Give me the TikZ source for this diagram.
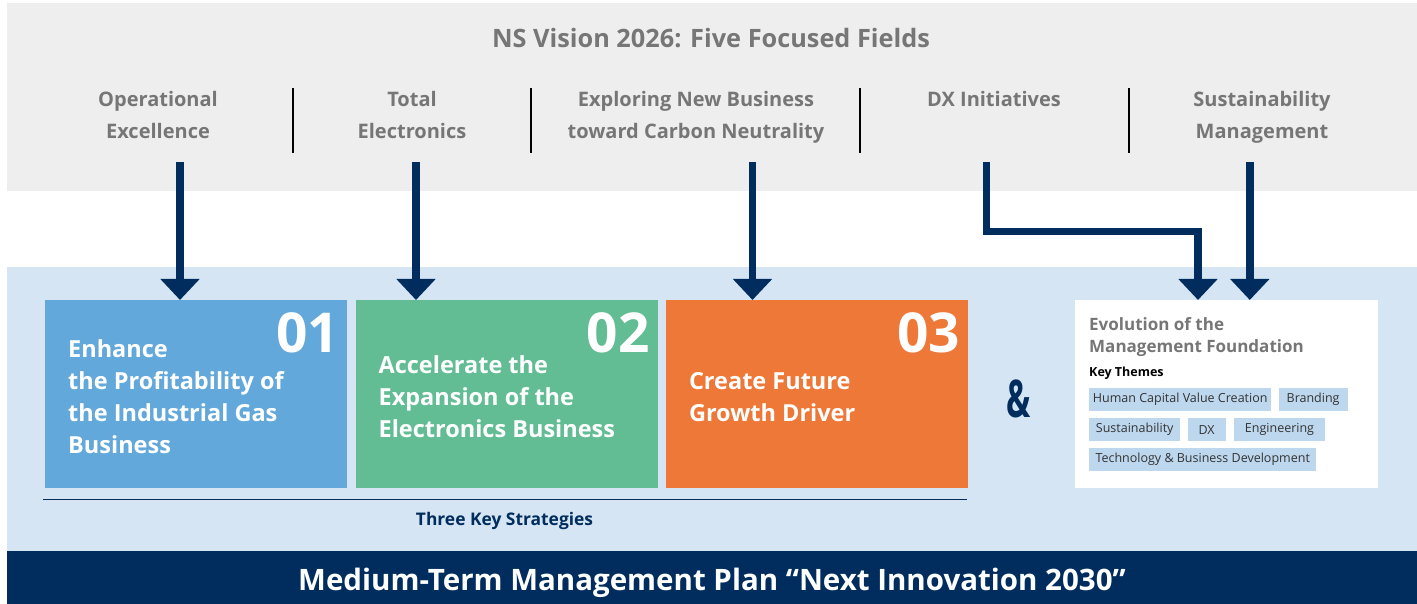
\documentclass[tikz,border=0pt]{standalone}
\usepackage{fontspec}
\setmainfont{Open Sans}
\usepackage{graphicx}
\usetikzlibrary{arrows.meta, positioning}

\definecolor{bandgray}{HTML}{EEEEEE}
\definecolor{bandblue}{HTML}{D5E5F4}
\definecolor{navy}{HTML}{002D5E}
\definecolor{boxblue}{HTML}{62A8DA}
\definecolor{boxgreen}{HTML}{62BD94}
\definecolor{boxorange}{HTML}{EE7838}
\definecolor{tagblue}{HTML}{BDD7EE}
\definecolor{txtgray}{HTML}{767676}
\definecolor{tagtxt}{HTML}{333333}

\begin{document}
\begin{tikzpicture}[
  x=1pt, y=-1pt,
  field/.style={font=\fontsize{20}{32}\selectfont\bfseries, text=txtgray,
                align=center, anchor=base, inner sep=0pt},
  strat/.style={minimum width=302pt, minimum height=188pt, inner sep=0pt, anchor=north west},
  stext/.style={font=\fontsize{23.5}{32}\selectfont\bfseries, text=white,
                align=left, anchor=base west, inner sep=0pt},
  num/.style={font=\fontsize{55}{55}\selectfont\bfseries, text=white, anchor=base east, inner sep=0pt},
  tag/.style={fill=tagblue, text=tagtxt, font=\fontsize{12.5}{14}\selectfont,
              minimum height=23pt, inner xsep=3pt, inner ysep=0pt, anchor=north west},
  arr/.style={navy, line width=7.5pt, -{Triangle[width=38pt, length=21pt]}}
]
\useasboundingbox (0,0) rectangle (1417,604);

% bands
\fill[bandgray] (7,3) rectangle (1417,191.5);
\fill[bandblue] (7,267) rectangle (1417,551);
\fill[navy] (7,551) rectangle (1417,604);

% five fields (base = last line)
\node[font=\fontsize{25.3}{30}\selectfont\bfseries, text=txtgray, anchor=base, inner sep=0pt]
  (title) at (711,47.7) {NS Vision 2026: Five Focused Fields};
\node[field] (f1) at (158,139) {Operational\\Excellence};
\node[field] (f2) at (412,139) {Total\\Electronics};
\node[field] (f3) at (696,139) {Exploring New Business\\toward Carbon Neutrality};
\node[field] (f4) at (994,107) {DX Initiatives};
\node[field] (f5) at (1262,139) {Sustainability\\Management};
\foreach \x in {293,531,860,1129}
  \draw[line width=1.3pt] (\x,88) -- (\x,153);

% three key strategies
\node[strat, fill=boxblue] (b1) at (45,300) {};
\node[strat, fill=boxgreen, right=8pt of b1] (b2) {};
\node[strat, fill=boxorange, right=8pt of b2] (b3) {};
\node[num] (n1) at ([shift={(-8,52)}]b1.north east) {01};
\node[num] (n2) at ([shift={(-8,52)}]b2.north east) {02};
\node[num] (n3) at ([shift={(-8,52)}]b3.north east) {03};
\node[stext] (s1) at ([shift={(23,153)}]b1.north west)
  {Enhance\\the Profitability of\\the Industrial Gas\\Business};
\node[stext] (s2) at ([shift={(23,137)}]b2.north west)
  {Accelerate the\\Expansion of the\\Electronics Business};
\node[stext] (s3) at ([shift={(23,121)}]b3.north west)
  {Create Future\\Growth Driver};
\draw[navy, line width=1.3pt] (43,499.3) -- (967,499.3);
\node[font=\fontsize{17.4}{22}\selectfont\bfseries, text=navy, anchor=base, inner sep=0pt]
  (three) at (504.5,525.7) {Three Key Strategies};

\node[font=\fontsize{52}{52}\selectfont\bfseries, text=navy] (amp) at (1019,399) {\scalebox{0.62}[1]{\&}};

% management foundation
\node[strat, fill=white, minimum width=303pt] (wb) at (1075,300) {};
\node[font=\fontsize{17}{22.7}\selectfont\bfseries, text=txtgray, align=left,
      anchor=base west, inner sep=0pt] (evo) at ([shift={(14,52.7)}]wb.north west)
  {Evolution of the\\Management Foundation};
\node[font=\fontsize{12.5}{15}\selectfont\bfseries, anchor=base west, inner sep=0pt]
  (key) at ([shift={(14,76.7)}]wb.north west) {Key Themes};
\node[tag, minimum width=182pt] (t1) at (1089,388) {Human Capital Value Creation};
\node[tag, minimum width=69pt, right=7pt of t1] (t2) {Branding};
\node[tag, minimum width=91pt] (t3) at (1089,418) {Sustainability};
\node[tag, minimum width=38pt, right=7pt of t3] (t4) {DX};
\node[tag, minimum width=91pt, right=8pt of t4] (t5) {Engineering};
\node[tag, minimum width=227pt] (t6) at (1089,448) {Technology \& Business Development};

% arrows from the fields
\coordinate (a1) at (180,162);
\coordinate (a2) at (416,162);
\coordinate (a3) at (752.5,162);
\coordinate (a4) at (986.7,162);
\coordinate (a5) at (1249.8,162);
\coordinate (k) at (1198,231.7);
\foreach \s/\t in {a1/b1,a2/b2,a3/b3,a5/wb} \draw[arr] (\s) -- (\s |- \t.north);
\draw[arr] (a4) |- (k) -- (k |- wb.north);

\node[font=\fontsize{29.5}{32}\selectfont\bfseries, text=white, anchor=base, inner sep=0pt]
  (plan) at (712,590.7) {Medium-Term Management Plan “Next Innovation 2030”};
\end{tikzpicture}
\end{document}
